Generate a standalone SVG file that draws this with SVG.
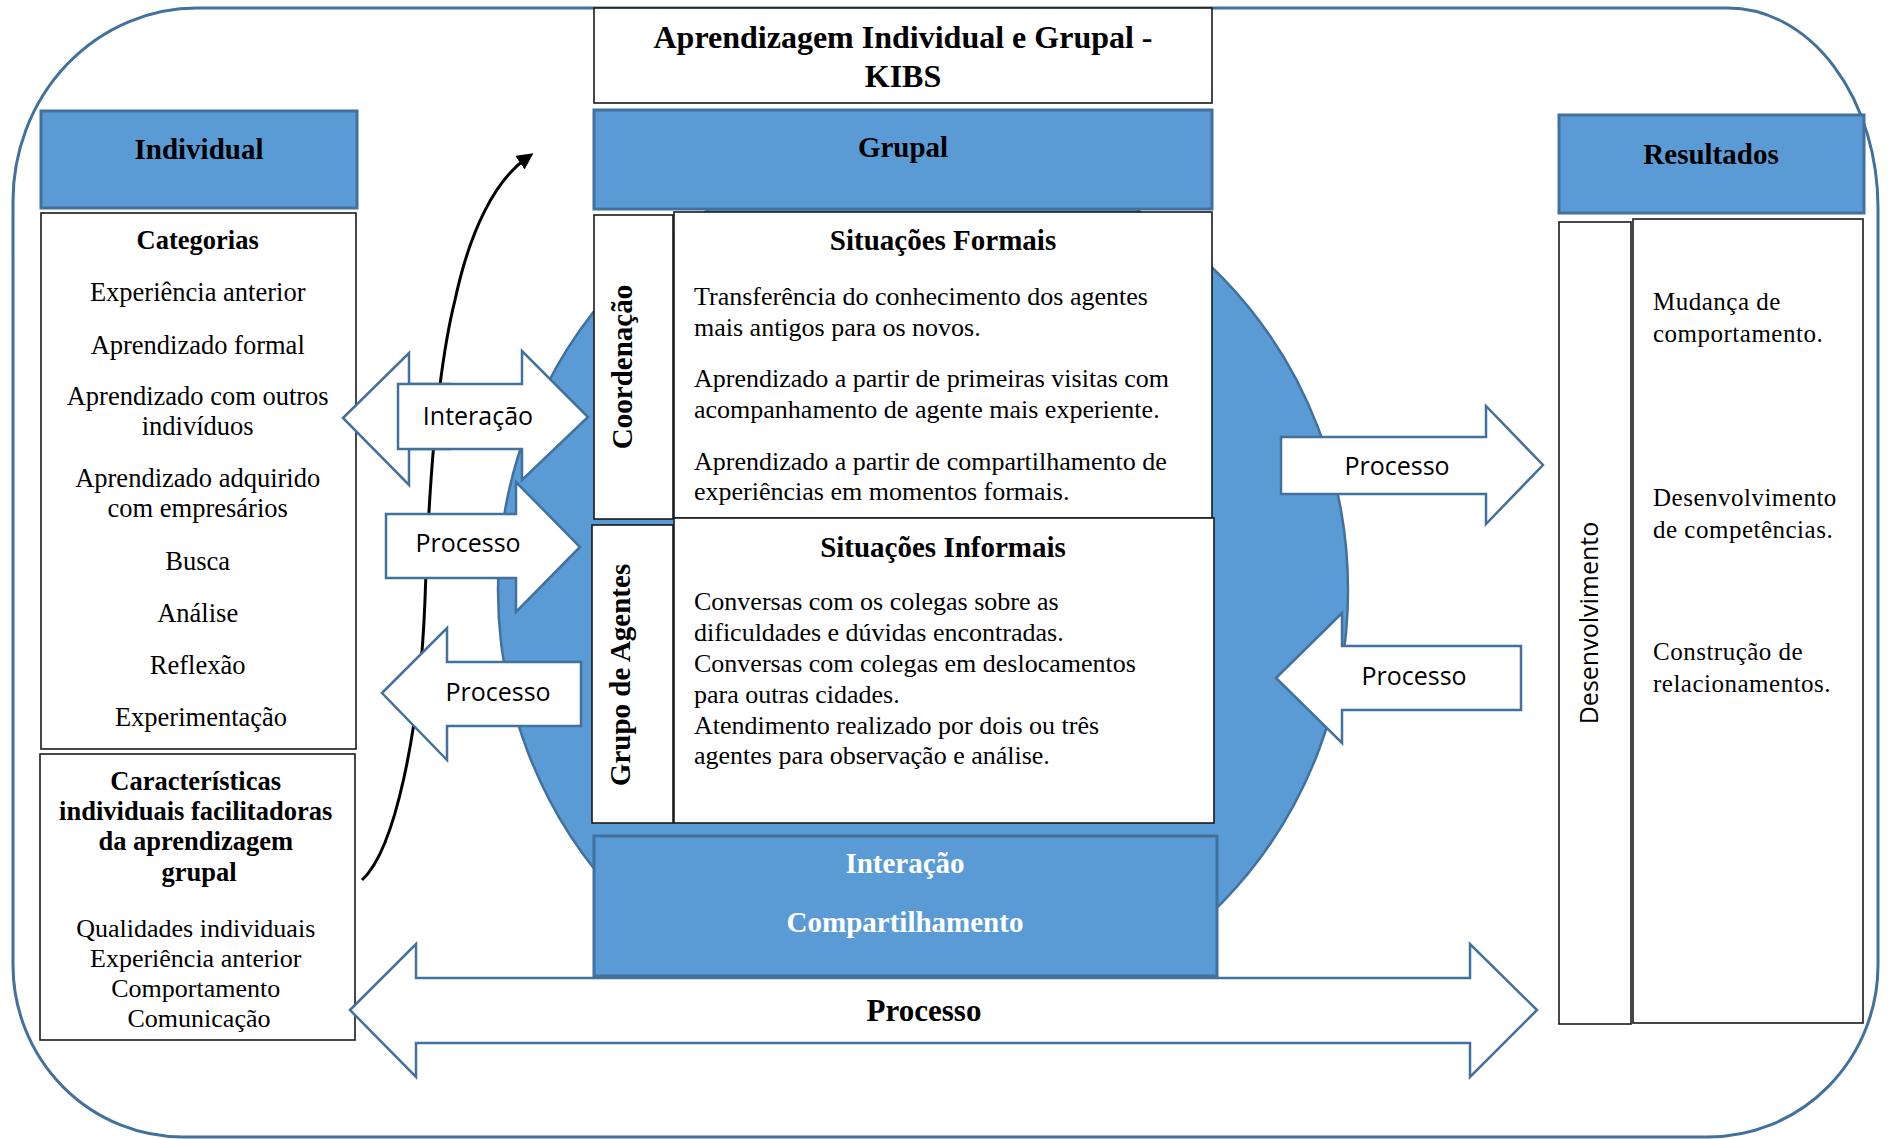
<svg xmlns="http://www.w3.org/2000/svg" width="1889" height="1139" viewBox="0 0 1889 1139">
<defs>
<style>
.bg{fill:#ffffff}
.outer{fill:none;stroke:#41719C;stroke-width:3}
.blue{fill:#5B9BD5;stroke:#41719C;stroke-width:3}
.box{fill:#ffffff;stroke:#1a1a1a;stroke-width:1.6}
.barrow{fill:#ffffff;stroke:#41719C;stroke-width:2.5;stroke-linejoin:miter}
.serif{font-family:"Liberation Serif","Times New Roman",serif;fill:#000}
.b{font-weight:bold}
.c{text-anchor:middle}
.sans{font-family:"Open Sans","Noto Sans",sans-serif;fill:#000}
.curve{fill:none;stroke:#000;stroke-width:3}
</style>
<marker id="ah" markerWidth="5.5" markerHeight="5.5" refX="6" refY="5" orient="auto" markerUnits="strokeWidth" viewBox="0 0 10 10">
<path d="M0,0 L10,5 L0,10 Z" fill="#000"/>
</marker>
</defs>
<rect class="bg" x="0" y="0" width="1889" height="1139"/>
<path class="outer" d="M 197 8 H 1728 A 150 200 0 0 1 1878 208 V 965 A 170 172 0 0 1 1708 1137 H 183 A 170 172 0 0 1 13 965 V 201 A 184 193 0 0 1 197 8 Z"/>
<ellipse id="circle" cx="923" cy="590" rx="425" ry="440" fill="#5B9BD5" stroke="#41719C" stroke-width="2.5"/>

<g id="title">
<rect class="box" x="594" y="8" width="618" height="95"/>
<text class="serif b c" x="903" y="48" font-size="32">Aprendizagem Individual e Grupal -</text>
<text class="serif b c" x="903" y="87" font-size="32">KIBS</text>
</g>

<g id="individual">
<rect class="blue" x="41" y="111" width="316" height="97"/>
<text class="serif b c" x="199" y="159" font-size="29">Individual</text>
</g>

<g id="categorias">
<rect class="box" x="41" y="213" width="315" height="536"/>
<text class="serif c" x="201" font-size="26.5">
<tspan class="b" x="201" y="249">Categorias</tspan>
<tspan x="201" y="301">Experiência anterior</tspan>
<tspan x="201" y="354">Aprendizado formal</tspan>
<tspan x="201" y="405">Aprendizado com outros</tspan>
<tspan x="201" y="435">indivíduos</tspan>
<tspan x="201" y="487">Aprendizado adquirido</tspan>
<tspan x="201" y="517">com empresários</tspan>
<tspan x="201" y="570">Busca</tspan>
<tspan x="201" y="622">Análise</tspan>
<tspan x="201" y="674">Reflexão</tspan>
<tspan x="201" y="726">Experimentação</tspan>
</text>
</g>

<g id="caracteristicas">
<rect class="box" x="40" y="754" width="315" height="286"/>
<text class="serif c" x="199" font-size="26.5">
<tspan class="b" x="199" y="790">Características</tspan>
<tspan class="b" x="199" y="820">individuais facilitadoras</tspan>
<tspan class="b" x="199" y="850">da aprendizagem</tspan>
<tspan class="b" x="199" y="881">grupal</tspan>
</text>
<text class="serif c" x="199" font-size="26">
<tspan x="199" y="937">Qualidades individuais</tspan>
<tspan x="199" y="967">Experiência anterior</tspan>
<tspan x="199" y="997">Comportamento</tspan>
<tspan x="199" y="1027">Comunicação</tspan>
</text>
</g>

<g id="grupal">
<rect class="blue" x="594" y="110" width="618" height="99"/>
<text class="serif b c" x="903" y="157" font-size="29">Grupal</text>
</g>

<g id="coordenacao">
<rect class="box" x="594" y="215" width="79" height="304"/>
<text class="serif b c" transform="translate(632,367) rotate(-90)" font-size="29">Coordenação</text>
</g>

<g id="situacoes-formais">
<rect class="box" x="674" y="212" width="538" height="306"/>
<text class="serif b c" x="943" y="250" font-size="29">Situações Formais</text>
<text class="serif" font-size="26">
<tspan x="694" y="305">Transferência do conhecimento dos agentes</tspan>
<tspan x="694" y="336">mais antigos para os novos.</tspan>
<tspan x="694" y="387">Aprendizado a partir de primeiras visitas com</tspan>
<tspan x="694" y="418">acompanhamento de agente mais experiente.</tspan>
<tspan x="694" y="470">Aprendizado a partir de compartilhamento de</tspan>
<tspan x="694" y="500">experiências em momentos formais.</tspan>
</text>
</g>

<g id="grupo-agentes">
<rect class="box" x="592" y="525" width="81" height="298"/>
<text class="serif b c" transform="translate(630,675) rotate(-90)" font-size="29">Grupo de Agentes</text>
</g>

<g id="situacoes-informais">
<rect class="box" x="674" y="518" width="540" height="305"/>
<text class="serif b c" x="943" y="557" font-size="29">Situações Informais</text>
<text class="serif" font-size="26">
<tspan x="694" y="610">Conversas com os colegas sobre as</tspan>
<tspan x="694" y="641">dificuldades e dúvidas encontradas.</tspan>
<tspan x="694" y="672">Conversas com colegas em deslocamentos</tspan>
<tspan x="694" y="703">para outras cidades.</tspan>
<tspan x="694" y="734">Atendimento realizado por dois ou três</tspan>
<tspan x="694" y="764">agentes para observação e análise.</tspan>
</text>
</g>

<g id="interacao-compartilhamento">
<rect class="blue" x="594" y="836" width="623" height="140"/>
<text class="serif b c" x="905" y="873" font-size="29" style="fill:#ffffff">Interação</text>
<text class="serif b c" x="905" y="932" font-size="29" style="fill:#ffffff">Compartilhamento</text>
</g>

<g id="resultados">
<rect class="blue" x="1559" y="115" width="305" height="98"/>
<text class="serif b c" x="1711" y="164" font-size="29">Resultados</text>
</g>

<g id="desenvolvimento">
<rect class="box" x="1559" y="222" width="72" height="802"/>
<text class="sans c" transform="translate(1598,623) rotate(-90)" font-size="25">Desenvolvimento</text>
</g>

<g id="resultados-lista">
<rect class="box" x="1633" y="219" width="230" height="804"/>
<text class="serif" font-size="25" letter-spacing="0.5">
<tspan x="1653" y="310">Mudança de</tspan>
<tspan x="1653" y="342">comportamento.</tspan>
<tspan x="1653" y="506">Desenvolvimento</tspan>
<tspan x="1653" y="538">de competências.</tspan>
<tspan x="1653" y="660">Construção de</tspan>
<tspan x="1653" y="692">relacionamentos.</tspan>
</text>
</g>

<g id="connectors">
<path id="curve" class="curve" d="M 362 880 C 395 850, 420 730, 425 600 C 430 450, 440 360, 455 300 C 470 230, 495 180, 528 157" marker-end="url(#ah)"/>
<g id="arrow-interacao">
<polygon class="barrow" points="343,418 409,353 409,384 450,384 450,449 409,449 409,485"/>
<polygon class="barrow" points="398,384 522,384 522,351 588,417 522,480 522,449 398,449"/>
<text class="sans c" x="478" y="425" font-size="25">Interação</text>
</g>
<g id="arrow-processo-l1">
<polygon class="barrow" points="386,514 516,514 516,482 580,547 516,612 516,578 386,578"/>
<text class="sans c" x="468" y="552" font-size="25">Processo</text>
</g>
<g id="arrow-processo-l2">
<polygon class="barrow" points="382,693 447,628 447,662 581,662 581,726 447,726 447,760"/>
<text class="sans c" x="498" y="701" font-size="25">Processo</text>
</g>
<g id="arrow-processo-r1">
<polygon class="barrow" points="1281,437 1486,437 1486,406 1543,465 1486,524 1486,494 1281,494"/>
<text class="sans c" x="1397" y="475" font-size="25">Processo</text>
</g>
<g id="arrow-processo-r2">
<polygon class="barrow" points="1276,678 1342,613 1342,646 1521,646 1521,710 1342,710 1342,743"/>
<text class="sans c" x="1414" y="685" font-size="25">Processo</text>
</g>
<g id="processo-bottom">
<polygon class="barrow" points="350,1010 416,944 416,978 1470,978 1470,944 1537,1010 1470,1077 1470,1043 416,1043 416,1077"/>
<text class="serif b c" x="924" y="1021" font-size="31">Processo</text>
</g>
</g>
</svg>
